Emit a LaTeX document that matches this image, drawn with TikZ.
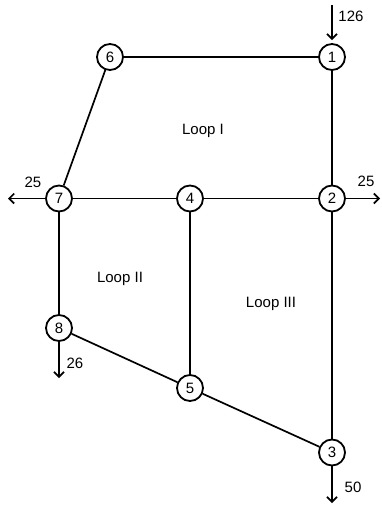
\documentclass[tikz,border=0pt]{standalone}
\usepackage{fontspec}
\setmainfont{Liberation Sans}
\usetikzlibrary{arrows.meta}
\begin{document}
\begin{tikzpicture}[x=1pt,y=-1pt,
  junction/.style={circle,draw,line width=1.8pt,minimum size=26pt,inner sep=0pt,fill=white,
    font=\fontsize{15}{17}\selectfont},
  pipe/.style={line width=1.7pt},
  flow/.style={line width=1.7pt,-{Straight Barb[length=5pt,width=10pt,line width=1.7pt]}},
  lbl/.style={font=\fontsize{15}{17}\selectfont,inner sep=0pt}]
\useasboundingbox (0,0) rectangle (381,508);

% junctions
\node[junction] (n6) at (110,57) {6};
\node[junction] (n1) at (332,57) {1};
\node[junction] (n7) at (59,198.5) {7};
\node[junction] (n4) at (190,198.5) {4};
\node[junction] (n2) at (332,198.5) {2};
\node[junction] (n8) at (59,328) {8};
\node[junction] (n5) at (190,388) {5};
\node[junction] (n3) at (332,452.5) {3};

% pipes
\draw[pipe] (n6) -- (n1);
\draw[pipe] (n1) -- (n2);
\draw[pipe] (n6) -- (n7);
\draw[pipe] (n7) -- (n4);
\draw[pipe] (n4) -- (n2);
\draw[pipe] (n7) -- (n8);
\draw[pipe] (n4) -- (n5);
\draw[pipe] (n2) -- (n3);
\draw[pipe] (n8) -- (n5);
\draw[pipe] (n5) -- (n3);

% inflow and outflows
\coordinate (in1) at (332,5);
\coordinate (out7) at (8,198.5);
\coordinate (out2) at (380,198.5);
\coordinate (out8) at (59,378);
\coordinate (out3) at (332,503);
\draw[flow,shorten >=3pt] (in1) -- (n1);
\draw[flow] (n7) -- (out7);
\draw[flow] (n2) -- (out2);
\draw[flow] (n8) -- (out8);
\draw[flow] (n3) -- (out3);

% flow values
\node[lbl] (q1) at (351,16) {126};
\node[lbl] (q7) at (33,182) {25};
\node[lbl] (q2) at (366,181) {25};
\node[lbl] (q8) at (75,363) {26};
\node[lbl] (q3) at (353,487) {50};

% loop names
\node[lbl] (l1) at (203,131) {Loop I};
\node[lbl] (l2) at (120,279) {Loop II};
\node[lbl] (l3) at (271,304) {Loop III};
\end{tikzpicture}
\end{document}
